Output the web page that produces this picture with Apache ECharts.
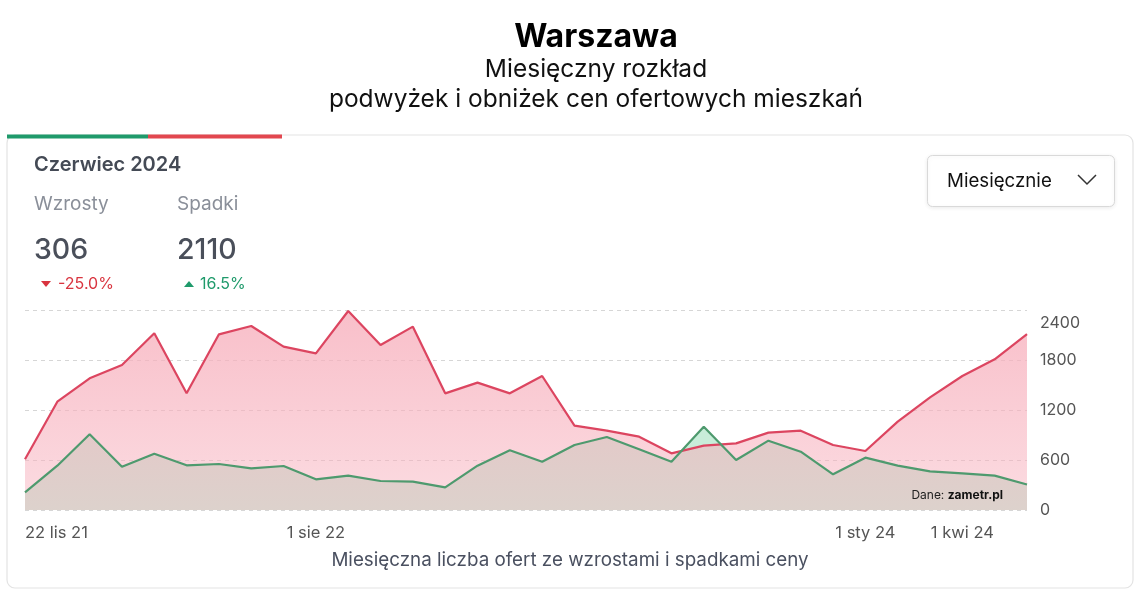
<!DOCTYPE html>
<html>
<head>
<meta charset="utf-8">
<script src="https://cdn.jsdelivr.net/npm/echarts@6/dist/echarts.min.js"></script>
<style>
html,body{margin:0;padding:0;background:#fff;}
#chart{width:1139px;height:600px;}
</style>
</head>
<body>
<div id="chart"></div>
<script>
const categories = ['22 lis 21','1 gru 21','1 sty 22','1 lut 22','1 mar 22','1 kwi 22','1 maj 22','1 cze 22','1 lip 22','1 sie 22','1 wrz 22','1 paź 22','1 lis 22','1 gru 22','1 sty 23','1 lut 23','1 mar 23','1 kwi 23','1 maj 23','1 cze 23','1 lip 23','1 sie 23','1 wrz 23','1 paź 23','1 lis 23','1 gru 23','1 sty 24','1 lut 24','1 mar 24','1 kwi 24','1 maj 24','1 cze 24'];
const spadki = [608,1300,1580,1740,2120,1400,2108,2208,1960,1880,2388,1980,2200,1400,1528,1400,1608,1012,952,880,680,772,800,928,952,780,708,1060,1352,1608,1808,2110];
const wzrosty = [212,532,908,520,676,536,552,500,528,368,412,348,340,272,532,716,580,780,876,728,580,1000,600,832,700,428,628,532,464,440,412,306];
const shownTicks = ['22 lis 21','1 sie 22','1 sty 24','1 kwi 24'];
const yTicks = [0,600,1200,1800,2400];

const FONT = 'Inter, "Noto Sans", sans-serif';
const chart = echarts.init(document.getElementById('chart'), null, {renderer:'canvas'});
chart.setOption({
  animation:false,
  textStyle:{fontFamily:FONT},
  grid:{left:25,right:112,top:310,bottom:90},
  xAxis:{
    type:'category', data:categories, boundaryGap:false,
    axisLine:{show:false}, axisTick:{show:false},
    axisLabel:{
      interval:(i,v)=>shownTicks.includes(v),
      color:'#555', fontSize:16.5, margin:15, alignMinLabel:'left', fontFamily:FONT
    },
    splitLine:{show:false}
  },
  yAxis:{
    type:'value', position:'right', min:yTicks[0], max:yTicks[yTicks.length-1], interval:600,
    axisLine:{show:false}, axisTick:{show:false},
    axisLabel:{
      color:'#555', fontSize:16, margin:13, fontFamily:FONT,
      formatter:v=> v===2400 ? '{t|2400}' : String(v),
      rich:{t:{padding:[26,0,0,0],fontSize:16,color:'#555',fontFamily:FONT}}
    },
    splitLine:{lineStyle:{color:'#d6d6d6',type:[4,4],width:1}}
  },
  series:[
    {
      name:'Wzrosty (obszar)', type:'line', data:wzrosty, symbol:'none',
      lineStyle:{width:0},
      areaStyle:{color:'rgb(200,237,217)',opacity:1},
      z:1
    },
    {
      name:'Spadki (obszar)', type:'line', data:spadki, symbol:'none',
      lineStyle:{width:0},
      areaStyle:{color:new echarts.graphic.LinearGradient(0,0,0,1,[{offset:0,color:'rgba(247,175,188,0.8)'},{offset:1,color:'rgba(247,175,188,0.44)'}]),opacity:1},
      z:2
    },
    {
      name:'Spadki', type:'line', data:spadki, symbol:'none',
      lineStyle:{color:'#dc4560',width:2.2},
      z:3
    },
    {
      name:'Wzrosty', type:'line', data:wzrosty, symbol:'none',
      lineStyle:{color:'#4e9a6e',width:2.2},
      z:4
    }
  ],
  graphic:[
    {type:'rect',z:-10,shape:{x:7,y:135,width:1126,height:453,r:8},style:{fill:'#fff',stroke:'#e3e3e3',lineWidth:1.2}},
    {type:'rect',z:5,shape:{x:7,y:134.5,width:141,height:4},style:{fill:'#1f9a6b'}},
    {type:'rect',z:5,shape:{x:148,y:134.5,width:134,height:4},style:{fill:'#e2474f'}},
    {type:'text',style:{text:'Warszawa',x:596,y:37,align:'center',verticalAlign:'middle',font:'bold 32px '+FONT,fill:'#000'}},
    {type:'text',style:{text:'Miesięczny rozkład',x:596,y:70,align:'center',verticalAlign:'middle',font:'24.5px '+FONT,fill:'#111'}},
    {type:'text',style:{text:'podwyżek i obniżek cen ofertowych mieszkań',x:596,y:100,align:'center',verticalAlign:'middle',font:'24.5px '+FONT,fill:'#111'}},
    {type:'text',style:{text:'Czerwiec 2024',x:34,y:165,verticalAlign:'middle',font:'600 20px '+FONT,fill:'#444a55'}},
    {type:'text',style:{text:'Wzrosty',x:34,y:204,verticalAlign:'middle',font:'19px '+FONT,fill:'#8a8f99'}},
    {type:'text',style:{text:'Spadki',x:177,y:204,verticalAlign:'middle',font:'19px '+FONT,fill:'#8a8f99'}},
    {type:'text',style:{text:'306',x:34,y:250,verticalAlign:'middle',font:'500 28.5px '+FONT,fill:'#4a4f5a'}},
    {type:'text',style:{text:'2110',x:177,y:250,verticalAlign:'middle',font:'500 28.5px '+FONT,fill:'#4a4f5a'}},
    {type:'polygon',shape:{points:[[41,281],[51,281],[46,287]]},style:{fill:'#d9343f'}},
    {type:'text',style:{text:'-25.0%',x:58,y:284,verticalAlign:'middle',font:'16px '+FONT,fill:'#d9343f'}},
    {type:'polygon',shape:{points:[[184,287],[194,287],[189,281]]},style:{fill:'#1f9a6b'}},
    {type:'text',style:{text:'16.5%',x:200,y:284,verticalAlign:'middle',font:'16px '+FONT,fill:'#1f9a6b'}},
    {type:'rect',shape:{x:927.5,y:155.5,width:187,height:51,r:5},style:{fill:'#fff',stroke:'#d9d9d9',lineWidth:1,shadowBlur:4,shadowColor:'rgba(0,0,0,0.08)',shadowOffsetY:1}},
    {type:'text',style:{text:'Miesięcznie',x:947,y:181,verticalAlign:'middle',font:'18.7px '+FONT,fill:'#111'}},
    {type:'polyline',shape:{points:[[1078,175],[1087,184],[1096,175]]},style:{stroke:'#333',lineWidth:1.5,fill:null}},
    {type:'text',z:10,style:{text:'{a|Dane: }{b|zametr.pl}',x:1003,y:495,align:'right',verticalAlign:'middle',rich:{a:{font:'12px '+FONT,fill:'#222'},b:{font:'bold 12px '+FONT,fill:'#111'}}}},
    {type:'text',style:{text:'Miesięczna liczba ofert ze wzrostami i spadkami ceny',x:570,y:560,align:'center',verticalAlign:'middle',font:'18.8px '+FONT,fill:'#4a5060'}}
  ]
});
</script>
</body>
</html>
